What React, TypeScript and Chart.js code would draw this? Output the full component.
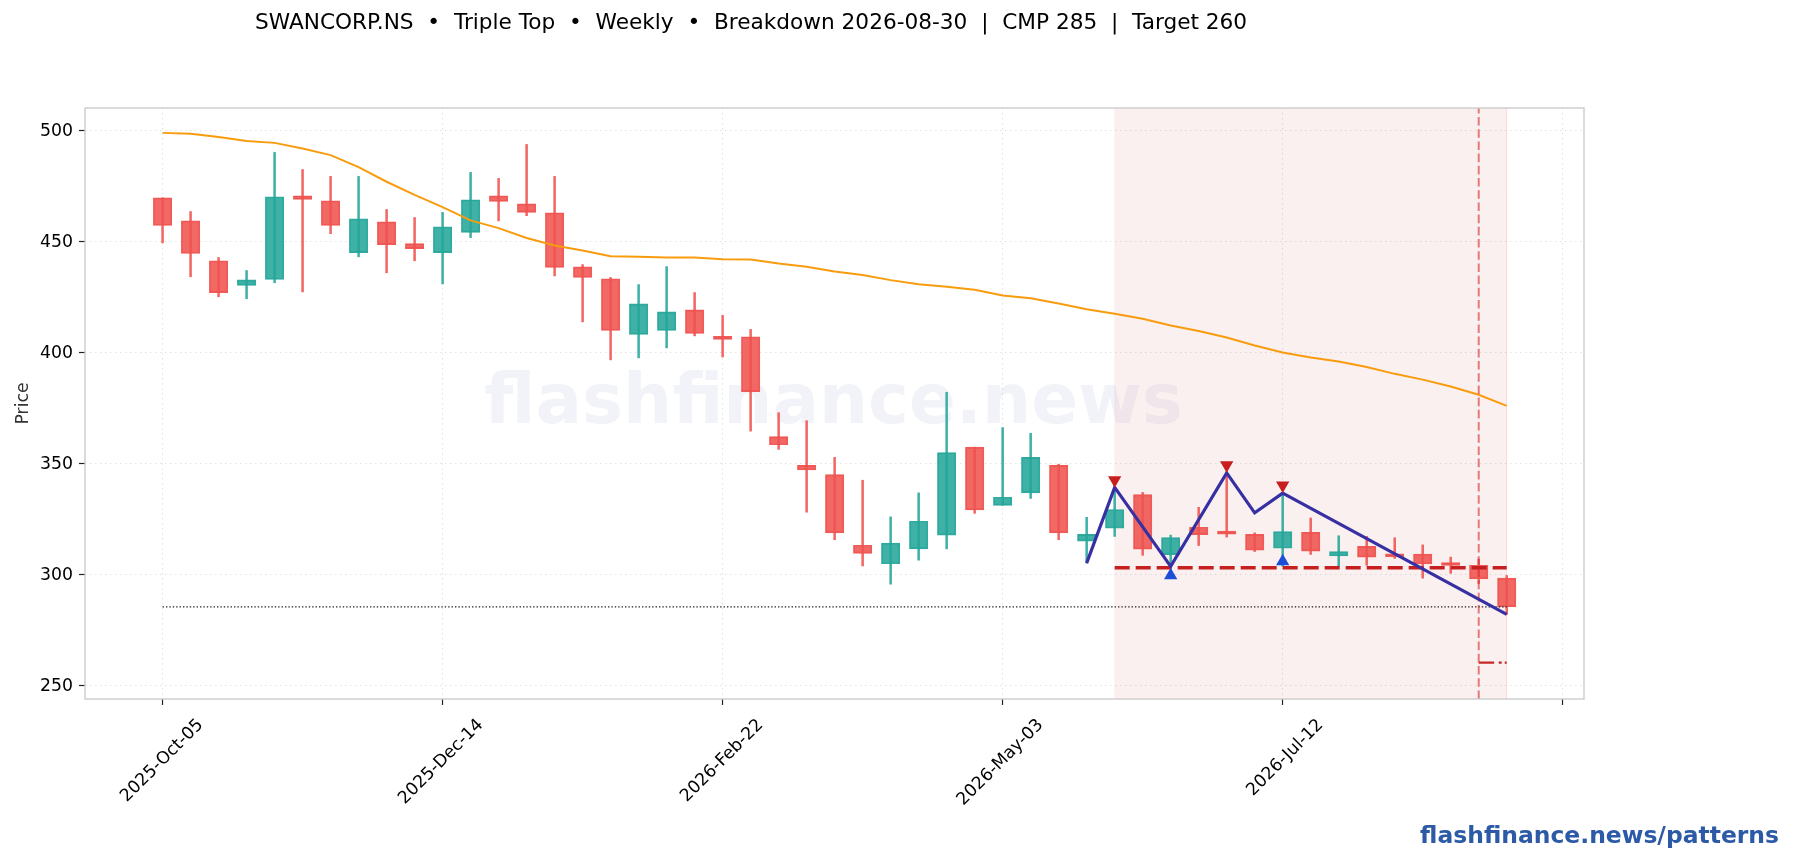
import React, { useEffect, useRef } from "react";
import { Chart, registerables } from "chart.js";

Chart.register(...registerables);

const tickLabels = ["2025-Oct-05", "2025-Dec-14", "2026-Feb-22", "2026-May-03", "2026-Jul-12", ""];
const opens = [469.7,459.3,441.3,430.2,432.9,470.6,468.3,445.0,458.9,449.0,445.0,454.1,470.6,467.0,462.9,438.6,433.2,408.1,409.9,419.2,406.8,407.1,362.1,349.2,345.0,313.2,304.9,311.6,317.8,357.4,331.2,336.8,349.2,315.1,320.9,336.0,309.0,321.3,318.7,318.1,311.9,319.0,308.4,312.7,308.4,309.3,304.3,304.2,298.4];
const closes = [457.2,444.6,427.0,432.7,470.1,468.9,457.2,460.2,448.6,446.8,456.6,468.8,468.0,463.1,438.3,433.8,409.9,421.9,418.3,408.6,405.9,382.4,358.5,347.1,318.8,309.6,314.2,324.0,354.9,329.1,334.8,352.8,318.8,318.1,329.3,311.5,316.7,318.0,318.2,311.0,319.4,310.6,310.4,307.9,308.0,304.8,304.1,298.1,285.5];
const highs = [469.7,463.5,442.8,436.9,490.1,482.4,479.3,479.3,464.4,460.8,463.1,481.1,478.4,493.7,479.3,439.6,433.8,430.6,438.7,427.0,416.7,410.4,372.9,369.3,352.8,342.5,326.0,336.8,382.1,357.4,366.2,363.6,349.7,325.8,339.3,337.0,317.8,330.3,346.3,318.8,336.6,325.5,317.5,317.2,316.6,313.4,307.9,307.0,299.6];
const lows = [449.4,434.1,425.1,424.2,431.4,427.3,453.5,443.1,435.9,441.3,430.9,451.7,459.3,461.6,434.5,413.8,396.7,397.6,402.1,407.5,398.0,364.6,356.4,328.1,315.7,303.9,295.7,306.5,311.6,327.6,331.2,334.3,315.7,305.2,317.2,308.7,303.7,313.1,316.9,310.4,303.7,309.1,303.7,304.2,307.3,298.4,300.6,296.0,282.1];
const sma = [498.9,498.5,497.0,495.2,494.4,491.9,488.9,483.5,476.9,471.0,465.5,459.5,456.0,451.6,448.2,445.9,443.4,443.1,442.8,442.8,442.0,441.9,440.1,438.6,436.5,434.9,432.6,430.7,429.6,428.3,425.7,424.4,422.1,419.5,417.5,415.2,412.2,409.7,406.8,403.2,400.0,397.8,396.0,393.5,390.4,387.8,384.7,381.0,376.0];
const patternX = [33, 34, 36, 38, 39, 40, 48];
const patternY = [305.2, 339.3, 303.7, 345.8, 327.8, 336.7, 282.1];
const peakX = [34, 38, 40];
const peakY = [342.6, 349.3, 340.2];
const troughX = [36, 40];
const troughY = [299.6, 305.9];
const cmp = 285.5;
const support = 303.1;
const target = 260.4;
const patternStart = 34;
const breakdownIdx = 47;
const lastIdx = 48;
const yMin = 244.0;
const yMax = 510.1;
const xMin = -2.77;
const xMax = 50.76;

const FONT = '"DejaVu Sans"';

const chromePlugin = {
  id: "chrome",
  beforeDatasetsDraw(chart: any) {
    const { ctx, chartArea: a } = chart;
    ctx.save();
    ctx.font = `bold 69px ${FONT}`;
    ctx.fillStyle = "rgba(30,58,138,0.06)";
    ctx.textAlign = "center";
    ctx.textBaseline = "middle";
    ctx.fillText("flashfinance.news", (a.left + a.right) / 2 - 1, 405);
    ctx.restore();
  },
  afterDraw(chart: any) {
    const { ctx, chartArea: a } = chart;
    ctx.save();
    ctx.strokeStyle = "#cccccc";
    ctx.lineWidth = 1.4;
    ctx.strokeRect(a.left, a.top, a.right - a.left, a.bottom - a.top);
    ctx.fillStyle = "#000";
    ctx.font = `21.65px ${FONT}`;
    ctx.textAlign = "left";
    ctx.textBaseline = "alphabetic";
    ctx.fillText("SWANCORP.NS  \u2022  Triple Top  \u2022  Weekly  \u2022  Breakdown 2026-08-30  |  CMP 285  |  Target 260", 255, 29);
    ctx.fillStyle = "#2c5aa6";
    ctx.font = `bold 23.45px ${FONT}`;
    ctx.textAlign = "right";
    ctx.fillText("flashfinance.news/patterns", 1779, 843);
    ctx.restore();
  },
};

export default function App() {
  const ref = useRef<HTMLCanvasElement>(null);
  useEffect(() => {
    const RED = "rgba(239,83,80,0.88)";
    const GREEN = "rgba(38,166,154,0.88)";
    const colorOf = (i: number) => (closes[i] >= opens[i] ? GREEN : RED);
    const idx = opens.map((_, i) => i);
    const line = (extra: any) => ({ type: "line", pointRadius: 0, fill: false, tension: 0, ...extra });
    const chart = new Chart(ref.current as HTMLCanvasElement, {
      type: "bar",
      plugins: [chromePlugin],
      data: {
        datasets: [
          line({
            label: "Pattern zone",
            order: 10,
            data: [
              { x: patternStart, y: yMin },
              { x: patternStart, y: yMax },
              { x: lastIdx, y: yMax },
              { x: lastIdx, y: yMin },
            ],
            fill: "start",
            backgroundColor: "rgba(198,40,40,0.07)",
            borderColor: "rgba(198,40,40,0.05)",
            borderWidth: 1,
          }),
          {
            label: "Wicks",
            order: 8,
            grouped: false,
            barThickness: 1.9,
            borderWidth: 0,
            data: idx.map((i) => ({ x: i, y: [lows[i], highs[i]] })),
            backgroundColor: idx.map(colorOf),
          },
          {
            label: "Bodies",
            order: 7,
            grouped: false,
            barThickness: 18.4,
            minBarLength: 3,
            borderWidth: 1.2,
            borderSkipped: false,
            data: idx.map((i) => ({ x: i, y: [opens[i], closes[i]] })),
            backgroundColor: idx.map(colorOf),
            borderColor: idx.map((i) => (closes[i] >= opens[i] ? "rgba(38,166,154,0.95)" : "rgba(239,83,80,0.95)")),
          },
          line({
            label: "SMA",
            order: 6,
            data: idx.map((i) => ({ x: i, y: sma[i] })),
            borderColor: "#f89c0e",
            borderWidth: 2,
          }),
          line({
            label: "CMP",
            order: 5,
            data: [{ x: 0, y: cmp }, { x: lastIdx, y: cmp }],
            borderColor: "#222",
            borderWidth: 1.1,
            borderDash: [1.4, 2],
          }),
          line({
            label: "Support",
            order: 4,
            data: [{ x: patternStart, y: support }, { x: lastIdx, y: support }],
            borderColor: "#c61f1f",
            borderWidth: 3.6,
            borderDash: [15, 6],
          }),
          line({
            label: "Breakdown",
            order: 3,
            data: [{ x: breakdownIdx, y: yMin }, { x: breakdownIdx, y: yMax }],
            borderColor: "rgba(211,47,47,0.62)",
            borderWidth: 2,
            borderDash: [8.6, 3.6],
          }),
          line({
            label: "Target",
            order: 3,
            data: [{ x: breakdownIdx, y: target }, { x: lastIdx, y: target }],
            borderColor: "#c62828",
            borderWidth: 2.2,
            borderDash: [15.5, 4.5, 3, 3],
          }),
          line({
            label: "Pattern",
            order: 2,
            data: patternX.map((x, i) => ({ x, y: patternY[i] })),
            borderColor: "#3730a3",
            borderWidth: 3.2,
          }),
          line({
            label: "Peaks",
            order: 1,
            showLine: false,
            data: peakX.map((x, i) => ({ x, y: peakY[i] })),
            pointRadius: 7.7,
            pointStyle: "triangle",
            pointRotation: 180,
            pointBackgroundColor: "#c81e1e",
            pointBorderWidth: 0,
          }),
          line({
            label: "Troughs",
            order: 1,
            showLine: false,
            data: troughX.map((x, i) => ({ x, y: troughY[i] })),
            pointRadius: 7.7,
            pointStyle: "triangle",
            pointBackgroundColor: "#1d4ed8",
            pointBorderWidth: 0,
          }),
        ] as any,
      },
      options: {
        animation: false,
        responsive: false,
        devicePixelRatio: 1,
        layout: { padding: { left: 0, top: 108, right: 209, bottom: 0 } },
        plugins: { legend: { display: false }, tooltip: { enabled: false } },
        scales: {
          x: {
            type: "linear",
            min: xMin,
            max: xMax,
            offset: false,
            afterFit: (s: any) => { s.height = 161; },
            border: { display: false, dash: [1.5, 3.5] },
            grid: { offset: false, color: "#e2e2e2", lineWidth: 1, tickLength: 6, tickColor: "#222", tickBorderDash: [], tickWidth: 1.2 },
            ticks: {
              stepSize: 10,
              includeBounds: false,
              autoSkip: false,
              minRotation: 45,
              maxRotation: 45,
              padding: 10,
              labelOffset: 38,
              color: "#000",
              font: { family: FONT, size: 17.3 },
              callback: (v: any) => tickLabels[Math.round(Number(v) / 10)] ?? "",
            },
          },
          y: {
            type: "linear",
            min: yMin,
            max: yMax,
            afterFit: (s: any) => { s.width = 85; },
            border: { display: false, dash: [1.5, 3.5] },
            grid: { color: "#e2e2e2", lineWidth: 1, tickLength: 6, tickColor: "#222", tickBorderDash: [], tickWidth: 1.2 },
            title: { display: true, text: "Price", color: "#333", font: { family: FONT, size: 17.3 }, padding: { top: 13, bottom: 0 } },
            ticks: {
              stepSize: 50,
              includeBounds: false,
              padding: 6,
              labelOffset: 1,
              color: "#000",
              font: { family: FONT, size: 17.3 },
            },
          },
        },
      } as any,
    });
    return () => chart.destroy();
  }, []);
  return <canvas ref={ref} width={1793} height={860} style={{ position: "fixed", left: 0, top: 0, display: "block" }} />;
}
